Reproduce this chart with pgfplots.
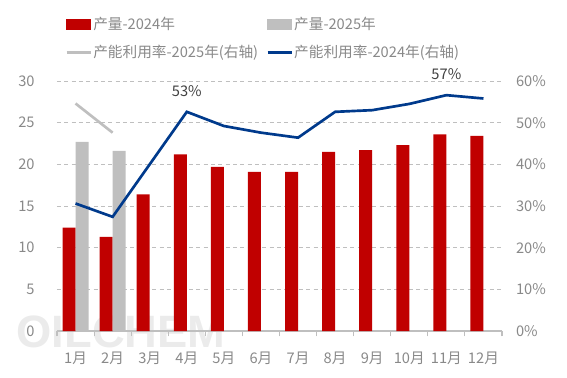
\documentclass[border=0pt]{standalone}
\usepackage{fontspec}
\setmainfont{Noto Sans CJK SC}
\newfontfamily\wmfont{Liberation Sans}
\usepackage{pgfplots}
\pgfplotsset{compat=1.18}
\definecolor{cRed}{RGB}{192,0,0}
\definecolor{cGrey}{RGB}{191,191,191}
\definecolor{cBlue}{RGB}{0,58,140}
\definecolor{cTick}{RGB}{137,137,137}
\definecolor{cLab}{RGB}{64,64,64}
\begin{document}
\begin{tikzpicture}
\path[use as bounding box] (-42.75pt,-35.25pt) rectangle (382.5pt,248.25pt);
\node[font=\wmfont\bfseries\fontsize{34}{34}\selectfont, text=gray!16, anchor=center] at (48pt,-0.5pt) {OILCHEM};
\begin{axis}[
  at={(0,0)}, anchor=south west,
  scale only axis, width=333.75pt, height=187.5pt,
  xmin=0.5, xmax=12.5, ymin=0, ymax=30,
  axis x line*=bottom, axis y line*=left,
  y axis line style={draw=none},
  x axis line style={cGrey, line width=0.8pt},
  xtick={1,...,12},
  xticklabels={1月,2月,3月,4月,5月,6月,7月,8月,9月,10月,11月,12月},
  minor xtick={0.5,1.5,...,12.5},
  major x tick style={draw=none},
  minor x tick style={cGrey, line width=0.8pt},
  tick align=outside, minor tick length=4pt,
  ytick={0,5,...,30}, ytick style={draw=none},
  ymajorgrids, grid style={cGrey, dash pattern=on 3pt off 2.5pt, line width=0.6pt},
  tick label style={font=\fontsize{11}{13}\selectfont, text=cTick},
  /pgf/number format/assume math mode=true,
  yticklabel style={xshift=-9pt},
  xticklabel style={yshift=-8pt},
  legend columns=2,
  legend cell align=left,
  legend style={draw=none, fill=none, at={(rel axis cs:0.018,1.262)}, anchor=north west,
    font=\fontsize{11}{13}\selectfont, text=cTick, inner sep=0pt,
    nodes={inner sep=1pt},
    /tikz/every even column/.append style={column sep=5pt},
    row sep=8.5pt},
]
\addlegendimage{legend image code/.code={\fill[cRed] (0pt,-3.8pt) rectangle (18pt,3.8pt);}}
\addlegendentry{产量-2024年}
\addlegendimage{legend image code/.code={\fill[cGrey] (0pt,-3.8pt) rectangle (18pt,3.8pt);}}
\addlegendentry{产量-2025年}
\addlegendimage{legend image code/.code={\draw[cGrey, line width=2pt] (0pt,0pt) -- (18pt,0pt);}}
\addlegendentry{产能利用率-2025年(右轴)}
\addlegendimage{legend image code/.code={\draw[cBlue, line width=2pt] (0pt,0pt) -- (18pt,0pt);}}
\addlegendentry{产能利用率-2024年(右轴)}
\addplot[ybar, bar width=9.75pt, bar shift=-4.9pt, fill=cRed, draw=none, forget plot] coordinates {
(1,12.4) (2,11.3) (3,16.4) (4,21.2) (5,19.7) (6,19.1) (7,19.1) (8,21.5) (9,21.7) (10,22.3) (11,23.6) (12,23.4)};
\addplot[ybar, bar width=9.75pt, bar shift=4.9pt, fill=cGrey, draw=none, forget plot] coordinates {
(1,22.7) (2,21.6)};
\end{axis}
\begin{axis}[
  at={(0,0)}, anchor=south west,
  scale only axis, width=333.75pt, height=187.5pt,
  xmin=0.5, xmax=12.5, ymin=0, ymax=60,
  axis x line=none, axis y line*=right,
  y axis line style={draw=none},
  ytick={0,10,...,60}, ytick style={draw=none},
  yticklabel={\pgfmathprintnumber{\tick}\%},
  tick label style={font=\fontsize{11}{13}\selectfont, text=cTick},
  /pgf/number format/assume math mode=true,
  yticklabel style={xshift=7pt},
]
\addplot[cGrey, line width=2pt] coordinates {(1,54.6) (2,47.6)};
\addplot[cBlue, line width=2pt, nodes near coords, point meta=explicit symbolic,
  every node near coord/.append style={font=\fontsize{11}{13}\selectfont, text=cLab, yshift=7pt}] coordinates {
(1,30.6) (2,27.4) (3,40.0) (4,52.6)[53\%] (5,49.2) (6,47.6) (7,46.4) (8,52.6) (9,53.0) (10,54.5) (11,56.6)[57\%] (12,55.8)};
\end{axis}
\end{tikzpicture}
\end{document}
